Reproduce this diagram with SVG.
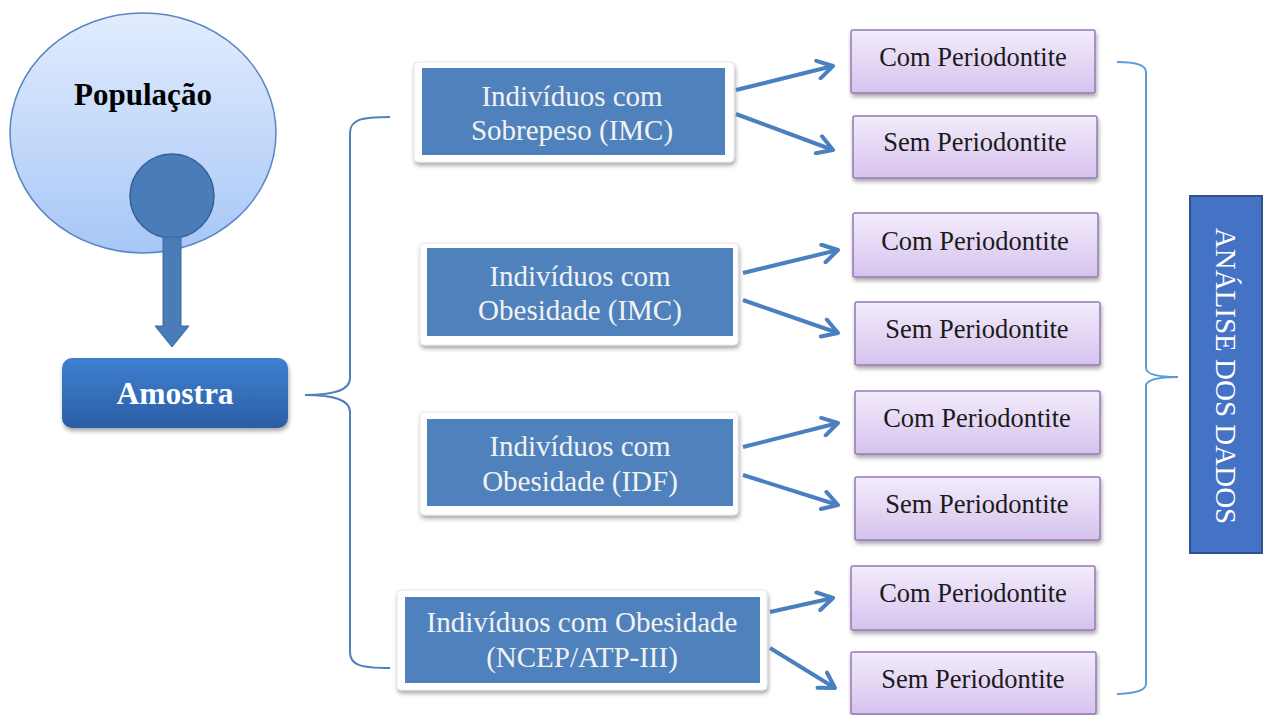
<svg xmlns="http://www.w3.org/2000/svg" width="1264" height="715" viewBox="0 0 1264 715">
<defs>
<linearGradient id="gPop" x1="0" y1="0" x2="0" y2="1"><stop offset="0" stop-color="#e2ecfd"/><stop offset="1" stop-color="#a7c7f7"/></linearGradient>
<linearGradient id="gAm" x1="0" y1="0" x2="0" y2="1"><stop offset="0" stop-color="#3f80d0"/><stop offset="1" stop-color="#2b5ea6"/></linearGradient>
<linearGradient id="gPur" x1="0" y1="0" x2="0" y2="1"><stop offset="0" stop-color="#f3ecfb"/><stop offset="1" stop-color="#d6c2ee"/></linearGradient>
<filter id="sh" x="-10%" y="-10%" width="125%" height="135%"><feDropShadow dx="1" dy="3" stdDeviation="2" flood-color="#000" flood-opacity="0.35"/></filter>
<marker id="ah" viewBox="0 0 22 22" refX="18" refY="11" markerWidth="22" markerHeight="22" markerUnits="userSpaceOnUse" orient="auto"><path d="M3,2 L18,11 L3,20" fill="none" stroke="#4a7fc0" stroke-width="4" stroke-linecap="round" stroke-linejoin="round"/></marker>
<style>
.outer{fill:#fff;stroke:#e6e6e6;stroke-width:1;filter:url(#sh)}
.inner{fill:#4f81bd}
.bt{font-family:"Liberation Serif",serif;font-size:29px;fill:#f2f2f2;text-anchor:middle}
.pur{fill:url(#gPur);stroke:#9479b6;stroke-width:1.5;filter:url(#sh)}
.pt{font-family:"Liberation Serif",serif;font-size:26.5px;fill:#1a1a1a;text-anchor:middle}
.arr{fill:none;stroke:#4a7fc0;stroke-width:4;marker-end:url(#ah)}
.brace{fill:none;stroke-width:2}
</style>
</defs>

<g id="populacao">
<ellipse cx="143" cy="133" rx="133" ry="120" fill="url(#gPop)" stroke="#5b86c2" stroke-width="1.5"/>
<text x="143" y="105" font-family="Liberation Serif, serif" font-size="31" font-weight="bold" fill="#000" text-anchor="middle">População</text>
<circle cx="172" cy="196" r="42" fill="#4a7cb8" stroke="#35609a" stroke-width="1.5"/>
</g>

<g id="seta-amostra">
<path d="M163,237 L181,237 L181,326 L189,326 L172,347 L155,326 L163,326 Z" fill="#4a7cb8" stroke="#3b679f" stroke-width="1"/>
</g>

<g id="amostra">
<rect x="62" y="358" width="226" height="70" rx="10" fill="url(#gAm)" filter="url(#sh)"/>
<text x="175" y="404" font-family="Liberation Serif, serif" font-size="31.5" font-weight="bold" fill="#fff" text-anchor="middle">Amostra</text>
</g>

<g id="grupo1">
<rect class="outer" x="414" y="62" width="320" height="100" rx="4"/>
<rect class="inner" x="422" y="68" width="303" height="87"/>
<text class="bt" x="572" y="106">Indivíduos com</text>
<text class="bt" x="572" y="140">Sobrepeso (IMC)</text>
</g>
<g id="grupo2">
<rect class="outer" x="420" y="243" width="318" height="102" rx="4"/>
<rect class="inner" x="427" y="248" width="306" height="88"/>
<text class="bt" x="580" y="286">Indivíduos com</text>
<text class="bt" x="580" y="320">Obesidade (IMC)</text>
</g>
<g id="grupo3">
<rect class="outer" x="420" y="412" width="318" height="103" rx="4"/>
<rect class="inner" x="427" y="419" width="306" height="87"/>
<text class="bt" x="580" y="456">Indivíduos com</text>
<text class="bt" x="580" y="491">Obesidade (IDF)</text>
</g>
<g id="grupo4">
<rect class="outer" x="397" y="590" width="370" height="100" rx="4"/>
<rect class="inner" x="405" y="597" width="355" height="86"/>
<text class="bt" x="582" y="632">Indivíduos com Obesidade</text>
<text class="bt" x="582" y="667">(NCEP/ATP-III)</text>
</g>

<g id="p1"><rect class="pur" x="851" y="30" width="244" height="63" rx="2"/><text class="pt" x="973" y="66">Com Periodontite</text></g>
<g id="p2"><rect class="pur" x="853" y="116" width="244" height="62" rx="2"/><text class="pt" x="975" y="151">Sem Periodontite</text></g>
<g id="p3"><rect class="pur" x="853" y="213" width="245" height="64" rx="2"/><text class="pt" x="975" y="250">Com Periodontite</text></g>
<g id="p4"><rect class="pur" x="855" y="302" width="245" height="63" rx="2"/><text class="pt" x="977" y="338">Sem Periodontite</text></g>
<g id="p5"><rect class="pur" x="855" y="391" width="245" height="63" rx="2"/><text class="pt" x="977" y="427">Com Periodontite</text></g>
<g id="p6"><rect class="pur" x="855" y="477" width="245" height="63" rx="2"/><text class="pt" x="977" y="513">Sem Periodontite</text></g>
<g id="p7"><rect class="pur" x="851" y="566" width="244" height="64" rx="2"/><text class="pt" x="973" y="602">Com Periodontite</text></g>
<g id="p8"><rect class="pur" x="851" y="652" width="245" height="62" rx="2"/><text class="pt" x="973" y="688">Sem Periodontite</text></g>

<g id="analise">
<rect x="1190" y="196" width="72" height="357" fill="#4472c4" stroke="#2f528f" stroke-width="2"/>
<text transform="translate(1226,376) rotate(90)" font-family="Liberation Serif, serif" font-size="29" fill="#fff" text-anchor="middle" dominant-baseline="central">ANÁLISE DOS DADOS</text>
</g>

<g id="conectores">
<path class="brace" stroke="#4f81bd" d="M390,117 C360,117 350,120 350,133 L350,378 C350,391 332,395 305,395 C332,395 350,399 350,412 L350,652 C350,665 360,668 390,668"/>
<path class="brace" stroke="#5b9bd5" d="M1117,62 Q1146,62 1146,72 L1146,368 Q1146,377 1178,377 Q1146,377 1146,386 L1146,684 Q1146,693 1117,694"/>
<path class="arr" d="M736,90 L833,66"/>
<path class="arr" d="M736,114 L833,150"/>
<path class="arr" d="M743,273 L838,250"/>
<path class="arr" d="M743,300 L838,333"/>
<path class="arr" d="M743,447 L838,423"/>
<path class="arr" d="M743,475 L838,505"/>
<path class="arr" d="M770,612 L833,598"/>
<path class="arr" d="M770,648 L835,688"/>
</g>
</svg>
